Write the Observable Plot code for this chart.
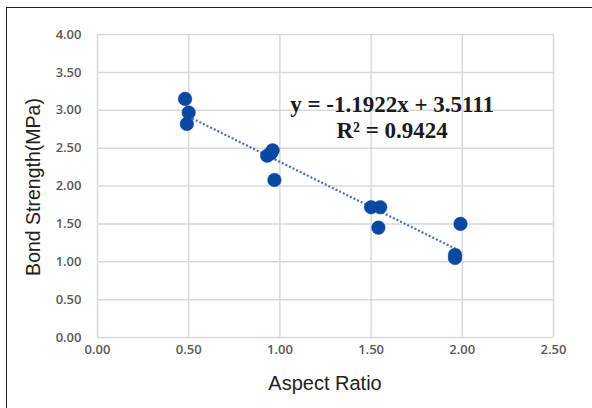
<!DOCTYPE html>
<html>
<head>
<meta charset="utf-8">
<script src="https://cdn.jsdelivr.net/npm/d3@7"></script>
<script src="https://cdn.jsdelivr.net/npm/@observablehq/plot@0.6"></script>
<style>
  html, body { margin: 0; padding: 0; background: #fff; }
  #wrap { position: relative; width: 592px; height: 408px; overflow: hidden; }
  #frame { position: absolute; left: 6px; top: 7px; width: 600px; height: 420px;
           border-left: 1.5px solid #222; border-top: 1.5px solid #222; pointer-events: none; }
  #chart { position: absolute; left: 0; top: 0; }
</style>
</head>
<body>
<div id="wrap"><div id="chart"></div><div id="frame"></div></div>
<script>
// Data
const aspectRatio = [0.48, 0.50, 0.49, 0.93, 0.95, 0.96, 0.97, 1.50, 1.55, 1.54, 1.96, 1.96, 1.99];
const bondStrength = [3.15, 2.97, 2.82, 2.40, 2.43, 2.47, 2.08, 1.72, 1.72, 1.45, 1.09, 1.05, 1.50];
const xTicks = [0, 0.5, 1.0, 1.5, 2.0, 2.5];
const yTicks = [0, 0.5, 1.0, 1.5, 2.0, 2.5, 3.0, 3.5, 4.0];
const slope = -1.1922;
const intercept = 3.5111;
const rSquared = 0.9424;
const eqLines = [`y = ${slope}x + ${intercept}`, `R² = ${rSquared}`];
const eqAnchor = { x: 1.615, y: [3.08, 2.73] };
const xTitle = "Aspect Ratio";
const yTitle = "Bond Strength(MPa)";

const fmt = d3.format(".2f");
const points = aspectRatio.map((x, i) => ({ x, y: bondStrength[i] }));
const xMin = d3.min(aspectRatio), xMax = d3.max(aspectRatio);
const trend = [xMin, xMax].map(x => ({ x, y: slope * x + intercept }));
const eqData = eqLines.map((t, i) => ({ t, x: eqAnchor.x, y: eqAnchor.y[i] }));
const tickFont = { fontFamily: "Open Sans", fontWeight: 600, fontSize: 13, fill: "#5a5a5a" };

const chart = Plot.plot({
  width: 592,
  height: 408,
  marginLeft: 97,
  marginRight: 39,
  marginTop: 34,
  marginBottom: 71,
  style: { background: "transparent", overflow: "visible" },
  x: { domain: [0, 2.5], axis: null },
  y: { domain: [0, 4], axis: null },
  marks: [
    Plot.gridX(xTicks, { stroke: "#d9d9d9", strokeOpacity: 1, strokeWidth: 1.5 }),
    Plot.gridY(yTicks, { stroke: "#d9d9d9", strokeOpacity: 1, strokeWidth: 1.5 }),
    Plot.text(xTicks, { x: d => d, frameAnchor: "bottom", dy: 16, text: fmt, textAnchor: "middle", ...tickFont }),
    Plot.text(yTicks, { y: d => d, frameAnchor: "left", dx: -16, text: fmt, textAnchor: "end", ...tickFont }),
    Plot.line(trend, { x: "x", y: "y", stroke: "#3f72c8", strokeWidth: 2.2, strokeDasharray: "2,2", strokeLinecap: "butt" }),
    Plot.dot(points, { x: "x", y: "y", r: 6.8, fill: "#0a48a2", stroke: "#0a48a2", strokeWidth: 0.5 }),
    Plot.text(eqData, { x: "x", y: "y", text: "t", fontFamily: "Liberation Serif", fontWeight: "bold",
      fontSize: 23, fill: "#1a1a1a", textAnchor: "middle" })
  ]
});

const svg = d3.select(chart);
// Axis titles
svg.append("text")
  .attr("transform", "translate(325,390)")
  .attr("text-anchor", "middle")
  .attr("font-family", "Liberation Sans")
  .attr("font-size", 20)
  .attr("fill", "#222")
  .text(xTitle);
svg.append("text")
  .attr("transform", "translate(40,187) rotate(-90)")
  .attr("text-anchor", "middle")
  .attr("font-family", "Liberation Sans")
  .attr("font-size", 19.5)
  .attr("fill", "#222")
  .text(yTitle);

document.getElementById("chart").appendChild(chart);
</script>
</body>
</html>
